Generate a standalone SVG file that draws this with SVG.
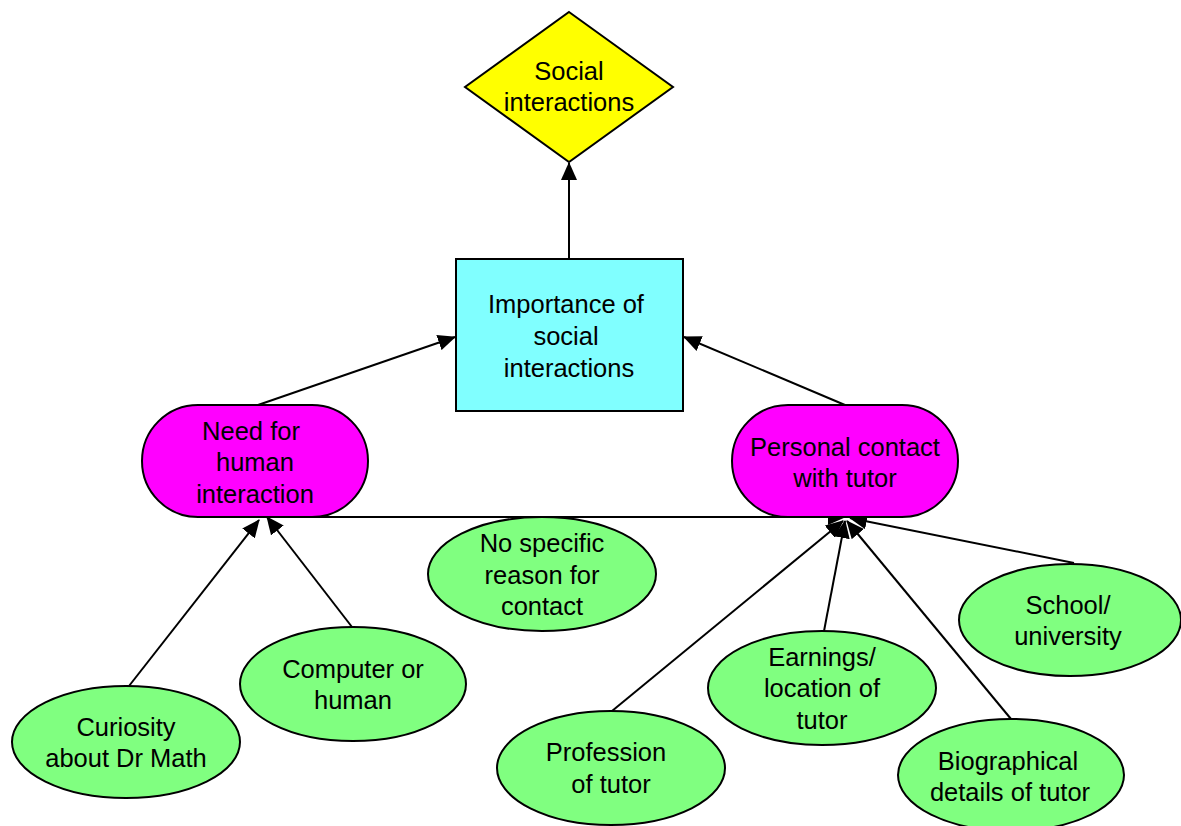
<svg xmlns="http://www.w3.org/2000/svg" width="1181" height="826" viewBox="0 0 1181 826">
<style>
text{font-family:"Liberation Sans",Arial,sans-serif;font-size:25.5px;fill:#000;text-anchor:middle}
.sh{stroke:#000;stroke-width:2}
.ell{fill:#80ff80;stroke:#000;stroke-width:2}
.pink{fill:#ff00ff;stroke:#000;stroke-width:2}
.c{fill:none;stroke:#000;stroke-width:2}
</style>
<defs>
<marker id="ah" viewBox="0 0 18 16" refX="17" refY="8" markerWidth="18" markerHeight="16" markerUnits="userSpaceOnUse" orient="auto">
<path d="M0,0 L18,8 L0,16 Z" fill="#000"/>
</marker>
</defs>
<rect width="1181" height="826" fill="#fff"/>
<g id="connectors">
<line class="c" x1="569" y1="259" x2="569" y2="163" marker-end="url(#ah)"/>
<line class="c" x1="258" y1="405" x2="455" y2="337" marker-end="url(#ah)"/>
<line class="c" x1="845" y1="405" x2="684" y2="337" marker-end="url(#ah)"/>
<line class="c" x1="272" y1="517" x2="845" y2="517" marker-end="url(#ah)"/>
<line class="c" x1="129" y1="686" x2="259" y2="520" marker-end="url(#ah)"/>
<line class="c" x1="352" y1="627" x2="267" y2="517" marker-end="url(#ah)"/>
<line class="c" x1="612" y1="711" x2="843" y2="521" marker-end="url(#ah)"/>
<line class="c" x1="824" y1="631" x2="845" y2="521" marker-end="url(#ah)"/>
<line class="c" x1="1011" y1="719" x2="847" y2="521" marker-end="url(#ah)"/>
<line class="c" x1="1074" y1="563" x2="850" y2="518" marker-end="url(#ah)"/>
</g>
<g id="social">
<polygon class="sh" fill="#ffff00" points="569,12 673,87 569,162 465,87"/>
<text x="569" y="80">Social</text>
<text x="569" y="111">interactions</text>
</g>
<g id="importance">
<rect class="sh" fill="#80ffff" x="456" y="259" width="227" height="152"/>
<text x="566" y="313">Importance of</text>
<text x="566" y="345">social</text>
<text x="569" y="377">interactions</text>
</g>
<g id="need">
<rect class="pink" x="142" y="405" width="226" height="112" rx="56" ry="56"/>
<text x="251" y="440">Need for</text>
<text x="255" y="471">human</text>
<text x="255" y="503">interaction</text>
</g>
<g id="personal">
<rect class="pink" x="732" y="405" width="226" height="112" rx="56" ry="56"/>
<text x="845" y="456">Personal contact</text>
<text x="845" y="487">with tutor</text>
</g>
<g id="nospecific">
<ellipse class="ell" cx="542" cy="574" rx="114" ry="57"/>
<text x="542" y="552">No specific</text>
<text x="542" y="584">reason for</text>
<text x="542" y="615">contact</text>
</g>
<g id="computer">
<ellipse class="ell" cx="353" cy="684" rx="113" ry="57"/>
<text x="353" y="678">Computer or</text>
<text x="353" y="709">human</text>
</g>
<g id="curiosity">
<ellipse class="ell" cx="126" cy="742" rx="114" ry="56"/>
<text x="126" y="736">Curiosity</text>
<text x="126" y="767">about Dr Math</text>
</g>
<g id="profession">
<ellipse class="ell" cx="611" cy="768" rx="114" ry="57"/>
<text x="606" y="761">Profession</text>
<text x="611" y="793">of tutor</text>
</g>
<g id="earnings">
<ellipse class="ell" cx="822" cy="688" rx="114" ry="57"/>
<text x="822" y="666">Earnings/</text>
<text x="822" y="697">location of</text>
<text x="822" y="729">tutor</text>
</g>
<g id="biographical">
<ellipse class="ell" cx="1011" cy="775" rx="113" ry="56"/>
<text x="1008" y="770">Biographical</text>
<text x="1010" y="801">details of tutor</text>
</g>
<g id="school">
<ellipse class="ell" cx="1070" cy="620" rx="111" ry="56"/>
<text x="1068" y="614">School/</text>
<text x="1068" y="645">university</text>
</g>
</svg>
